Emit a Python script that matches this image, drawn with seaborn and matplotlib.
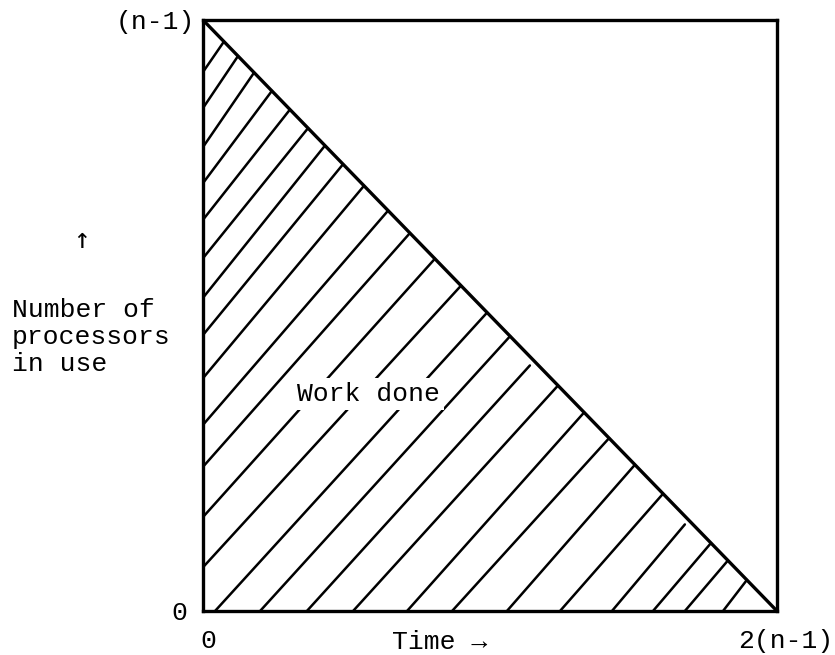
import numpy as np
import pandas as pd
import matplotlib
matplotlib.use("Agg")
import matplotlib.pyplot as plt
from matplotlib.transforms import ScaledTranslation, blended_transform_factory
import seaborn as sns

# ---- data (time in units of (n-1), processors in units of (n-1)) ----
diag_time = [0.0, 2.0]
diag_procs = [1.0, 0.0]

# hatch lines that start on the left edge (time = 0): start height, end time on the diagonal
left_start_procs = [0.912, 0.851, 0.785, 0.724, 0.662, 0.597, 0.530, 0.467, 0.394, 0.315, 0.244, 0.159, 0.074]
left_end_time = [0.073, 0.122, 0.178, 0.240, 0.303, 0.366, 0.425, 0.488, 0.561, 0.645, 0.721, 0.808, 0.899]
left_end_gap = [0, 0, 0, 0, 0, 0, 0, 0, 0, 0, 0, 0, 0]

# hatch lines that start on the bottom edge (procs = 0): start time, end time on the diagonal
bottom_start_time = [0.042, 0.199, 0.362, 0.523, 0.711, 0.868, 1.059, 1.244, 1.425, 1.568, 1.679, 1.812]
bottom_end_time = [0.990, 1.070, 1.139, 1.237, 1.328, 1.415, 1.505, 1.603, 1.679, 1.770, 1.829, 1.895]
bottom_end_gap = [0, 0, 0.015, 0, 0, 0, 0, 0, 0.014, 0, 0, 0]

x_tick_vals = [0, 2]
x_tick_labels = ["0", "2(n-1)"]
y_tick_vals = [0, 1]
y_tick_labels = ["0", "(n-1)"]

# ---- build hatch segment table ----
rows = []
seg = 0
for y0, x1, g in zip(left_start_procs, left_end_time, left_end_gap):
    rows.append((seg, 0.0, y0))
    rows.append((seg, x1, 1 - x1 / 2 - g))
    seg += 1
for x0, x1, g in zip(bottom_start_time, bottom_end_time, bottom_end_gap):
    rows.append((seg, x0, 0.0))
    rows.append((seg, x1, 1 - x1 / 2 - g))
    seg += 1
hatch = pd.DataFrame(rows, columns=["seg", "time", "procs"])
diag = pd.DataFrame({"time": diag_time, "procs": diag_procs})

sns.set_theme(style="white")
plt.rcParams["font.family"] = ["Liberation Mono", "DejaVu Sans Mono"]

fig = plt.figure(figsize=(8.35, 6.55), dpi=100)
fig.patch.set_facecolor("white")
ax = fig.add_axes([203 / 835, 1 - 611 / 655, 574 / 835, 591 / 655])

sns.lineplot(data=hatch, x="time", y="procs", units="seg", estimator=None,
             color="black", lw=1.8, ax=ax, legend=False, sort=False)
sns.lineplot(data=diag, x="time", y="procs", color="black", lw=2.4, ax=ax,
             legend=False, sort=False)

ax.set_xlim(0, 2)
ax.set_ylim(0, 1)
ax.set_xlabel("")
ax.set_ylabel("")
for s in ax.spines.values():
    s.set_visible(True)
    s.set_color("black")
    s.set_linewidth(2.4)

fs = 19
ax.set_xticks(x_tick_vals, labels=x_tick_labels)
ax.set_yticks(y_tick_vals, labels=y_tick_labels)
ax.tick_params(axis="x", length=0, pad=13, labelsize=fs, colors="black")
ax.tick_params(axis="y", length=0, pad=6, labelsize=fs, colors="black")
xl = ax.get_xticklabels()
xl[0].set_transform(xl[0].get_transform() + ScaledTranslation(5 / 100, 0, fig.dpi_scale_trans))
xl[1].set_transform(xl[1].get_transform() + ScaledTranslation(9 / 100, 0, fig.dpi_scale_trans))
yl = ax.get_yticklabels()
yl[0].set_transform(yl[0].get_transform() + ScaledTranslation(-7 / 100, 0, fig.dpi_scale_trans))

trans = blended_transform_factory(ax.transData, ax.transAxes)
ax.text(0.826, -0.052, "Time \u2192", transform=trans, ha="center", va="center",
        fontsize=fs, color="black")

ax.text(0.575, 0.367, "Work done", ha="center", va="center", fontsize=fs,
        color="black", bbox=dict(facecolor="white", edgecolor="none", pad=3))

fig.text(82 / 835, 1 - 240 / 655, "\u2191", ha="center", va="center",
         fontsize=20, color="black", family=["DejaVu Sans Mono"])
fig.text(12 / 835, 1 - 317 / 655, "Number of", ha="left", va="baseline",
         fontsize=fs, color="black")
fig.text(12 / 835, 1 - 344 / 655, "processors", ha="left", va="baseline",
         fontsize=fs, color="black")
fig.text(12 / 835, 1 - 371 / 655, "in use", ha="left", va="baseline",
         fontsize=fs, color="black")

fig.savefig("out.png", dpi=100, facecolor="white")
